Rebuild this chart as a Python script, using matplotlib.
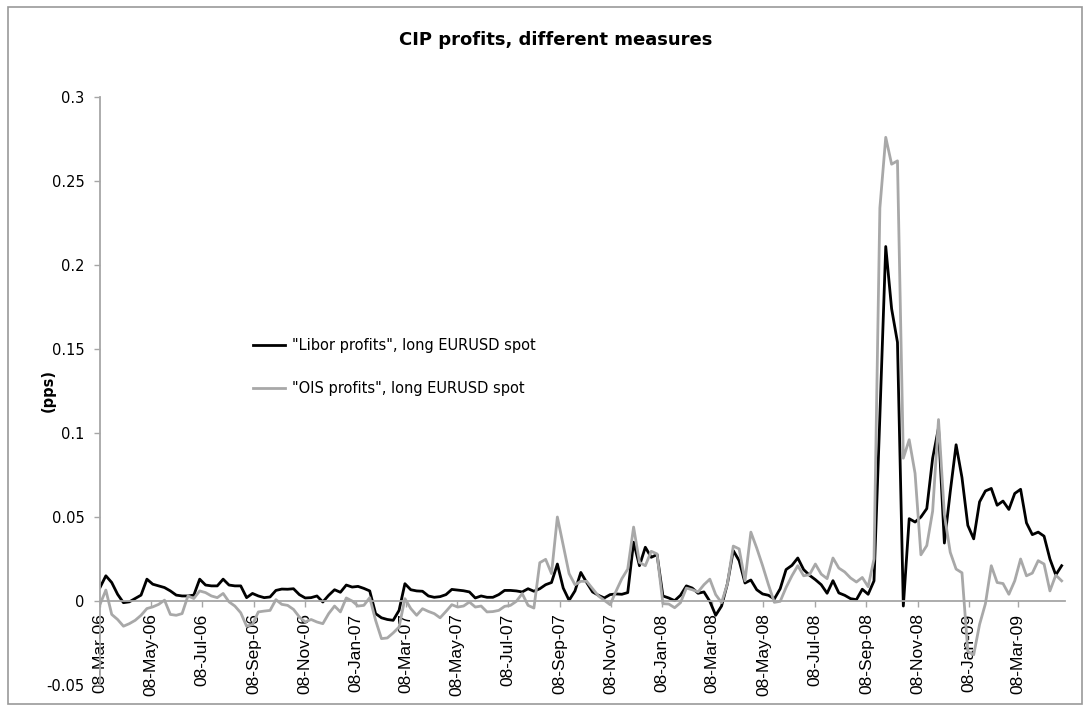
import matplotlib
matplotlib.use('Agg')
import matplotlib.pyplot as plt
import matplotlib.dates as mdates
from matplotlib.patches import Rectangle
from matplotlib.ticker import FuncFormatter
import pandas as pd

# weekly observations, starting 8 March 2006
start_date = '2006-03-08'

libor = [
    0.008, 0.015, 0.011, 0.004, -0.001, -0.0005, 0.0015, 0.0035, 0.013, 0.010,
    0.009, 0.008, 0.006, 0.0035, 0.003, 0.003, 0.0035, 0.013, 0.0095, 0.009,
    0.009, 0.013, 0.0095, 0.009, 0.009, 0.002, 0.0045, 0.003, 0.002, 0.0024,
    0.0063, 0.0071, 0.007, 0.0073, 0.0038, 0.0018, 0.002, 0.003, -0.0006, 0.0034,
    0.0067, 0.0052, 0.0095, 0.0083, 0.0087, 0.0075, 0.006, -0.0075, -0.010, -0.011,
    -0.0115, -0.0056, 0.0103, 0.0067, 0.006, 0.0058, 0.003, 0.0022, 0.0026, 0.0038,
    0.0069, 0.0065, 0.0061, 0.0054, 0.0018, 0.003, 0.0022, 0.0022, 0.0038, 0.0063,
    0.0063, 0.006, 0.0054, 0.0073, 0.0058, 0.0073, 0.0097, 0.011, 0.022, 0.0077,
    0.0004, 0.006, 0.017, 0.011, 0.0054, 0.0034, 0.0018, 0.0038, 0.0042, 0.004,
    0.005, 0.035, 0.021, 0.032, 0.026, 0.0276, 0.003, 0.0018, 0.0002, 0.0034,
    0.009, 0.0077, 0.0046, 0.0054, -0.0002, -0.0085, -0.003, 0.0103, 0.030, 0.024,
    0.0107, 0.0125, 0.0067, 0.0042, 0.0034, 0.0012, 0.0073, 0.0187, 0.0212, 0.0256,
    0.0187, 0.0153, 0.0127, 0.0097, 0.0046, 0.0121, 0.0048, 0.0034, 0.0014, 0.0008,
    0.007, 0.004, 0.012, 0.11, 0.211, 0.174, 0.154, -0.003, 0.049, 0.047,
    0.050, 0.055, 0.085, 0.103, 0.0345, 0.065, 0.093, 0.0735, 0.045, 0.037,
    0.059, 0.0655, 0.067, 0.057, 0.0595, 0.0545, 0.064, 0.0665, 0.0465, 0.0395,
    0.041, 0.0386, 0.025, 0.0155, 0.021,
]

ois = [
    -0.002, 0.0065, -0.008, -0.011, -0.015, -0.0135, -0.0115, -0.0085, -0.0045, -0.0035,
    -0.002, 0.0005, -0.008, -0.0085, -0.0075, 0.003, 0.0015, 0.006, 0.005, 0.003,
    0.002, 0.0045, -0.0005, -0.003, -0.007, -0.015, -0.014, -0.0065, -0.006, -0.0056,
    0.0008, -0.002, -0.0026, -0.005, -0.0095, -0.0125, -0.011, -0.0125, -0.0135, -0.0075,
    -0.003, -0.0065, 0.0018, 0.0, -0.003, -0.0026, 0.002, -0.0115, -0.0224, -0.022,
    -0.019, -0.0155, 0.0014, -0.0045, -0.0085, -0.0046, -0.0062, -0.0075, -0.010, -0.0062,
    -0.0022, -0.0036, -0.003, -0.0006, -0.0036, -0.003, -0.0065, -0.0063, -0.0056, -0.0032,
    -0.0026, -0.0002, 0.0044, -0.0026, -0.0042, 0.0228, 0.0248, 0.0163, 0.050, 0.033,
    0.0163, 0.0097, 0.0117, 0.0117, 0.0073, 0.003, 0.0004, -0.0022, 0.0058, 0.0133,
    0.019, 0.044, 0.023, 0.021, 0.0296, 0.028, -0.0016, -0.0018, -0.004, -0.001,
    0.0077, 0.0067, 0.0054, 0.0097, 0.013, 0.0038, -0.001, 0.0103, 0.0327, 0.031,
    0.012, 0.041, 0.0315, 0.021, 0.0097, -0.0008, -0.0002, 0.008, 0.015, 0.021,
    0.015, 0.0157, 0.022, 0.016, 0.0133, 0.0256, 0.0196, 0.0173, 0.0137, 0.0113,
    0.014, 0.0085, 0.025, 0.234, 0.276, 0.260, 0.262, 0.085, 0.096, 0.076,
    0.0275, 0.033, 0.0535, 0.108, 0.0515, 0.029, 0.019, 0.0168, -0.030, -0.032,
    -0.014, -0.0016, 0.021, 0.011, 0.0104, 0.004, 0.012, 0.025, 0.015, 0.0166,
    0.024, 0.022, 0.006, 0.0154, 0.012,
]

labels = ['"Libor profits", long EURUSD spot', '"OIS profits", long EURUSD spot']
yticks = [-0.05, 0, 0.05, 0.1, 0.15, 0.2, 0.25, 0.3]

dates = pd.date_range(start_date, periods=len(libor), freq='7D')

fig = plt.figure(figsize=(10.9, 7.11), dpi=100)
ax = fig.add_axes([100 / 1090, 1 - 685 / 711, 965 / 1090, 588 / 711])

axis_grey = '#a6a6a6'
ax.plot(dates, libor, color='black', lw=2.0, label=labels[0])
ax.plot(dates, ois, color='#a8a8a8', lw=2.0, label=labels[1])

ax.set_ylim(-0.05, 0.3)
ax.set_xlim(dates[0], dates[-1] + pd.Timedelta(days=4))
ax.set_yticks(yticks)
ax.yaxis.set_major_formatter(FuncFormatter(lambda v, p: '%g' % v))

ax.xaxis.set_major_locator(mdates.MonthLocator(bymonth=(1, 3, 5, 7, 9, 11), bymonthday=8))
ax.xaxis.set_major_formatter(mdates.DateFormatter('%d-%b-%y'))

for s in ['top', 'right']:
    ax.spines[s].set_visible(False)
ax.spines['bottom'].set_position(('data', 0))
ax.spines['bottom'].set_color(axis_grey)
ax.spines['left'].set_color(axis_grey)
ax.spines['bottom'].set_linewidth(1.3)
ax.spines['left'].set_linewidth(1.3)

ax.tick_params(axis='y', colors=axis_grey, labelcolor='black', length=4, width=1, pad=7,
               labelsize=10.5)
ax.tick_params(axis='x', colors=axis_grey, labelcolor='black', length=4, width=1, pad=5,
               labelsize=12.5)
for t in ax.get_xticklabels():
    t.set_rotation(90)
    t.set_family('Liberation Sans')
for t in ax.get_yticklabels():
    t.set_family('DejaVu Sans')

fig.text(48 / 1090, 1 - 390 / 711, '(pps)', rotation=90, ha='center', va='center',
         fontsize=10.5, fontweight='bold')
fig.text(556 / 1090, 1 - 40 / 711, 'CIP profits, different measures', ha='center',
         va='center', fontsize=13, fontweight='bold')

leg = ax.legend(loc='upper left', bbox_to_anchor=(140 / 965, 1 - 228 / 588), frameon=False,
                fontsize=10.5, handlelength=2.2, labelspacing=1.9, handletextpad=0.5)

fig.patches.append(Rectangle((8 / 1090, 7 / 711), 1 - 16 / 1090, 1 - 14 / 711,
                             transform=fig.transFigure, fill=False, ec='#999999', lw=1.2))

fig.savefig('out.png', dpi=100)
